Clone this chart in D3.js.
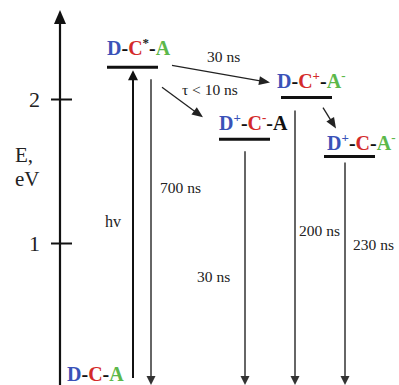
<!DOCTYPE html>
<html lang="en">
<head>
<meta charset="UTF-8">
<title>Energy level diagram</title>
<script src="https://cdn.jsdelivr.net/npm/d3@7"></script>
<style>
  body { margin: 0; background: #fff; }
  text { font-family: "Liberation Serif", "Times New Roman", serif; }
</style>
</head>
<body>
<div id="chart"></div>
<script>
// energy levels, eV ("^" marks a superscript)
const levelNames = ["D-C^*-A", "D-C^+-A^-", "D^+-C^--A", "D^+-C-A^-"];
const levelEnergy = [2.22, 2.01, 1.72, 1.60];
const groundName = "D-C-A";
const groundEnergy = 0;
// decay of each level back to the ground state
const decayLabels = ["700 ns", "200 ns", "30 ns", "230 ns"];
// transfers between levels
const transferFrom = [0, 0, 1];
const transferTo = [1, 2, 3];
const transferLabels = ["30 ns", "τ < 10 ns", ""];
const energyTicks = [1, 2];
const excitationLabel = "hv";

// layout
const width = 399, height = 385;
const axisX = 60;
const levelX = [107, 281, 219, 324];   // left end of each level bar
const levelW = 51;
const labelDx = [0, -4, 0, 3];
const labelDy = [-12, -10, -9, -7];
const blackA = [false, false, true, false];
const decayX = [151, 295, 245, 345];
const decayGap = [12, 13, 12, 6];
const decayLabelPos = [[160, 193], [299, 236], [197, 282], [353, 250]];
// [dx start, dy start, dx end, dy end]
const transferOffsets = [[14, -2, -11, -15], [4, 20, -16, -22], [-9, 10, 12, -28]];
const transferLabelOffsets = [[35, -3], [20, 8], [0, 0]];
const ink = {D: "#3a52b8", C: "#d42a2a", A: "#5cb84a"};

const y = d3.scaleLinear().domain([0, 2]).range([387, 99]);

const svg = d3.select("#chart").append("svg")
    .attr("width", width)
    .attr("height", height);

function arrow(g, x1, y1, x2, y2, len, w, sw, col) {
    const a = Math.atan2(y2 - y1, x2 - x1);
    const bx = x2 - len * Math.cos(a), by = y2 - len * Math.sin(a);
    const nx = -Math.sin(a) * w / 2, ny = Math.cos(a) * w / 2;
    g.append("line")
        .attr("x1", x1).attr("y1", y1)
        .attr("x2", bx + Math.cos(a)).attr("y2", by + Math.sin(a))
        .attr("stroke", col).attr("stroke-width", sw);
    g.append("path")
        .attr("d", `M${x2},${y2}L${bx + nx},${by + ny}L${bx - nx},${by - ny}Z`)
        .attr("fill", col);
}

// molecule label with coloured letters and superscripts
function molecule(g, name, x, yy, darkA) {
    const t = g.append("text")
        .attr("x", x).attr("y", yy)
        .attr("font-size", 20).attr("font-weight", "bold");
    let prev = "#111", shifted = false;
    for (let i = 0; i < name.length; i++) {
        let ch = name[i];
        if (ch === "^") {
            ch = name[++i];
            t.append("tspan").text(ch)
                .attr("font-size", 13)
                .attr("dy", -8)
                .attr("fill", ch === "*" ? "#222" : prev);
            shifted = true;
            continue;
        }
        let col = ink[ch] || "#111";
        if (ch === "A" && darkA) col = "#111";
        const s = t.append("tspan").text(ch).attr("fill", col);
        if (shifted) { s.attr("dy", 8); shifted = false; }
        prev = col;
    }
}

// energy axis
const gAxis = svg.append("g").attr("transform", `translate(${axisX},0)`);
gAxis.call(d3.axisLeft(y).tickValues(energyTicks).tickFormat(d3.format("d")).tickSize(9))
    .call(g => g.select(".domain").remove())
    .call(g => g.selectAll(".tick line")
        .attr("x1", -9).attr("x2", 12)
        .attr("stroke", "#111").attr("stroke-width", 2))
    .call(g => g.selectAll(".tick text")
        .attr("x", -20)
        .attr("font-family", "Liberation Serif, serif")
        .attr("font-size", 22)
        .attr("fill", "#222"));
arrow(svg, axisX, height, axisX, 10, 14, 12, 2.2, "#111");

svg.append("text").attr("x", 15).attr("y", 162)
    .attr("font-size", 21).attr("fill", "#222").text("E,");
svg.append("text").attr("x", 15).attr("y", 186)
    .attr("font-size", 21).attr("fill", "#222").text("eV");

// levels
const gLev = svg.append("g");
levelEnergy.forEach((e, i) => {
    const ly = y(e);
    gLev.append("line")
        .attr("x1", levelX[i]).attr("x2", levelX[i] + levelW)
        .attr("y1", ly).attr("y2", ly)
        .attr("stroke", "#111").attr("stroke-width", 3);
    molecule(gLev, levelNames[i], levelX[i] + labelDx[i], ly + labelDy[i], blackA[i]);
});
molecule(gLev, groundName, 67, 381, false);

// excitation
arrow(svg, 133, y(groundEnergy) - 9, 133, y(levelEnergy[0]) + 3, 10, 10, 2, "#111");
svg.append("text").attr("x", 105).attr("y", 227)
    .attr("font-size", 16).attr("fill", "#222").text(excitationLabel);

// decays to ground
levelEnergy.forEach((e, i) => {
    arrow(svg, decayX[i], y(e) + decayGap[i], decayX[i], y(groundEnergy) - 2, 9, 9, 1.5, "#333");
    svg.append("text")
        .attr("x", decayLabelPos[i][0]).attr("y", decayLabelPos[i][1])
        .attr("font-size", 15.5).attr("fill", "#222")
        .text(decayLabels[i]);
});

// transfers
transferFrom.forEach((f, i) => {
    const t = transferTo[i], o = transferOffsets[i];
    const x1 = levelX[f] + levelW + o[0], y1 = y(levelEnergy[f]) + o[1];
    const x2 = levelX[t] + o[2], y2 = y(levelEnergy[t]) + o[3];
    arrow(svg, x1, y1, x2, y2, 11, 9, 1.3, "#222");
    if (transferLabels[i]) {
        svg.append("text")
            .attr("x", x1 + transferLabelOffsets[i][0])
            .attr("y", y1 + transferLabelOffsets[i][1])
            .attr("font-size", 15.5).attr("fill", "#222")
            .text(transferLabels[i]);
    }
});
</script>
</body>
</html>
